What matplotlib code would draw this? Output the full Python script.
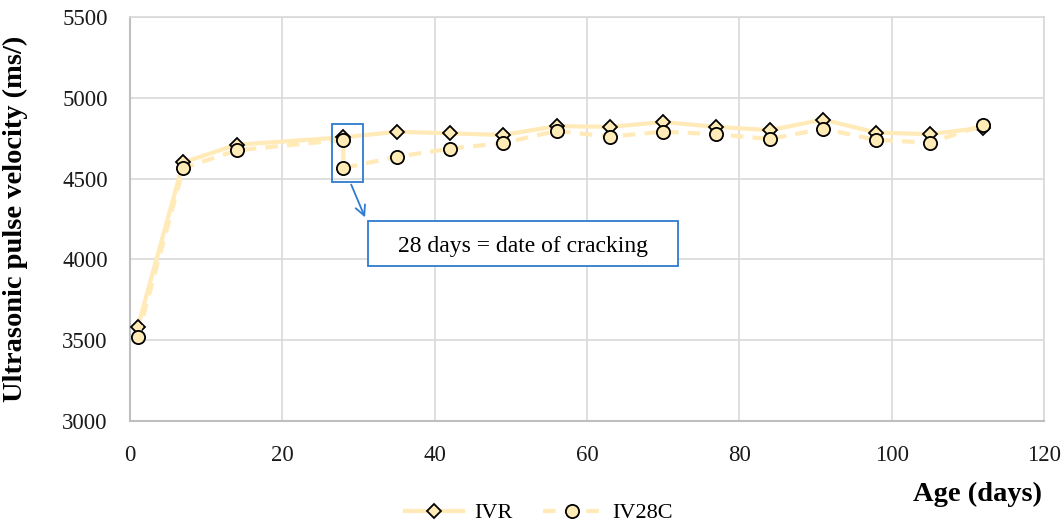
import matplotlib
matplotlib.use("Agg")
import matplotlib.pyplot as plt
from matplotlib.patches import Rectangle
from matplotlib.lines import Line2D

plt.rcParams['font.family'] = ['Liberation Serif', 'DejaVu Serif']

# Ages at test (days)
days_ivr = [1, 7, 14, 28, 35, 42, 49, 56, 63, 70, 77, 84, 91, 98, 105, 112]
ivr = [3580, 4600, 4710, 4755, 4790, 4780, 4770, 4825, 4820, 4850, 4820, 4800, 4865, 4785, 4775, 4815]

# IV28C was cracked at 28 days: two readings on that day (before / after cracking)
days_iv28c = [1, 7, 14, 28, 28, 35, 42, 49, 56, 63, 70, 77, 84, 91, 98, 105, 112]
iv28c = [3520, 4565, 4675, 4740, 4565, 4635, 4685, 4720, 4795, 4760, 4790, 4775, 4745, 4808, 4740, 4722, 4830]

x_ticks = [0, 20, 40, 60, 80, 100, 120]
y_ticks = [3000, 3500, 4000, 4500, 5000, 5500]

line_color = '#FFEAB8'
marker_fill = '#FFEBB5'
blue = '#2E7BCF'
grid_color = '#D9D9D9'

fig = plt.figure(figsize=(10.64, 5.24), dpi=100)
ax = fig.add_axes([130 / 1064, 1 - 421 / 524, (1044 - 130) / 1064, (421 - 17) / 524])

ax.plot(days_ivr, ivr, color=line_color, lw=3, solid_capstyle='round',
        marker='D', ms=7, mfc=marker_fill, mec='black', mew=1.3, zorder=3, label='IVR')
ax.plot(days_iv28c, iv28c, color=line_color, lw=3, ls=(0, (3, 2.2)),
        marker='o', ms=9.5, mfc=marker_fill, mec='black', mew=1.3, zorder=4, label='IV28C')

ax.set_xlim(0, 120)
ax.set_ylim(3000, 5500)
ax.set_xticks(x_ticks)
ax.set_yticks(y_ticks)
ax.grid(True, color=grid_color, lw=1.2)
ax.set_axisbelow(True)
ax.tick_params(length=0, labelsize=16.5, labelcolor='#1a1a1a')
ax.tick_params(axis='y', pad=16)
ax.tick_params(axis='x', pad=17)
for side in ('top', 'right'):
    ax.spines[side].set_color(grid_color)
    ax.spines[side].set_linewidth(1.2)
for side in ('left', 'bottom'):
    ax.spines[side].set_color('#BFBFBF')
    ax.spines[side].set_linewidth(1.5)

ax.set_ylabel('Ultrasonic pulse velocity (ms/)', fontsize=20.5, fontweight='bold')
ax.yaxis.set_label_coords((28 - 130) / 914, 0.5)
fig.text(1042 / 1064, 1 - 494 / 524, 'Age (days)', fontsize=20.5, fontweight='bold',
         ha='right', va='center')

# Highlight of the cracking date and its callout
ax.add_patch(Rectangle((26.5, 4479), 4.1, 359, fill=False, ec=blue, lw=1.3, zorder=5))
ax.annotate('', xy=(31.0, 4244), xytext=(28.9, 4479),
            arrowprops=dict(arrowstyle='->', color=blue, lw=1.3, mutation_scale=18), zorder=5)
ax.add_patch(Rectangle((31.2, 3959), 40.7, 279, fill=True, fc='white', ec=blue, lw=1.3, zorder=5))
ax.text(51.6, 4077, '28 days = date of cracking', fontsize=17, ha='center', va='center', zorder=6)

handles = [
    Line2D([], [], color=line_color, lw=3, marker='D', ms=7, mfc=marker_fill, mec='black', mew=1.3),
    Line2D([], [], color=line_color, lw=3, ls=(0, (3, 2.2)), marker='o', ms=9.5,
           mfc=marker_fill, mec='black', mew=1.3),
]
fig.legend(handles, ['IVR', 'IV28C'], loc='center', bbox_to_anchor=(539 / 1064, 1 - 513 / 524),
           ncol=2, frameon=False, fontsize=16, handlelength=2.6, columnspacing=1.4, handletextpad=0.5)

fig.savefig('out.png', dpi=100)
